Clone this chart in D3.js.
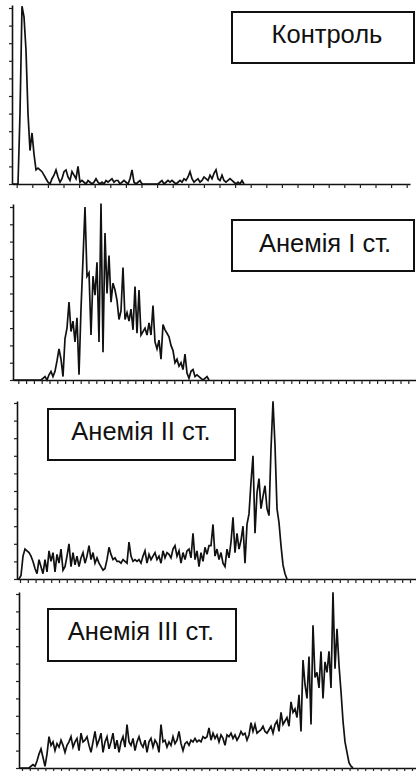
<!DOCTYPE html>
<html lang="uk">
<head>
<meta charset="UTF-8" />
<title>Гістограми еритроцитів</title>
<script src="https://d3js.org/d3.v7.min.js"></script>
<style>
    body { margin: 0; background: #fff; }
    svg { display: block; }
    .lbl { font-family: "Liberation Sans", Arial, sans-serif; font-size: 25.5px; fill: #111; }
</style>
</head>
<body>
<script>
    // histogram values, one per channel, 0..100 = height of the y axis
    var labels = ["Контроль", "Анемія I ст.", "Анемія II ст.", "Анемія III ст."];

    var controlValues = [0,0,0,0,40,101,95,76,40,19, 29,17,8,9,8,7,5,3,1,0,
        3,5,8,4,1,3,7,8,4,2, 7,5,3,10,1,2,1,0,2,1, 0,1,3,1,0,1,0,2,1,2,
        3,1,2,2,0,1,2,1,0,3, 8,1,0,1,2,0,0,0,0,0, 0,0,0,0,1,2,0,1,2,1,
        2,1,0,1,2,1,3,2,4,7, 3,1,2,3,1,2,4,3,2,5, 3,6,8,3,2,5,2,1,2,3,
        2,1,0,1,0,2,0];

    var anemia1Values = [0,0,0,0,0,0,0,0,0,0, 0,0,0,0,0,1,2,0,3,5,
        2,5,11,18,12,2,24,30,45,28, 34,22,36,3,41,70,100,60,62,26,
        60,49,68,22,102,16,85,50,72,45, 56,52,46,35,40,65,35,39,34,41,
        29,54,27,52,26,28,30,26,33,26, 43,22,18,23,12,32,29,27,25,20,
        17,10,12,8,10,6,15,4,1,5, 6,2,3,2,1,0,1,2,0];

    var anemia2Values = [0,0,2,13,17,16,15,13,10,6, 3,11,7,3,11,4,16,10,15,4,
        14,9,17,5,7,13,20,7,15,8, 13,7,12,15,9,13,19,11,15,9,
        12,9,7,5,6,11,18,14,11,12, 10,10,9,11,10,9,21,13,10,11,
        10,11,9,13,16,9,14,11,13,15, 11,13,9,16,12,15,14,12,17,19,
        13,16,9,15,11,16,17,12,26,11, 16,7,15,10,18,14,19,19,31,13,
        17,11,15,9,7,17,12,21,35,15, 26,17,22,30,9,31,37,55,70,26,
        49,57,40,47,53,40,36,74,101,76, 40,32,19,8,3,0];

    var anemia3Values = [0,0,0,0,0,0,1,2,1,4, 8,11,6,1,8,18,13,15,10,14,
        12,16,13,9,13,15,18,12,15,17, 10,20,15,16,18,13,9,15,21,13,
        16,20,9,15,18,11,15,20,11,16, 9,15,18,12,25,15,13,17,10,15,
        18,14,12,16,9,15,17,12,16,14, 9,25,15,16,12,15,13,18,14,16,
        21,14,10,14,15,13,16,15,17,15, 16,15,18,17,18,23,16,20,17,19,
        15,19,17,13,19,18,20,17,19,16, 18,21,19,20,16,19,26,21,25,20,
        21,22,24,21,20,22,24,20,25,27, 21,32,25,27,29,24,38,32,34,29,
        42,21,62,48,40,64,25,82,52,55, 46,67,40,61,55,67,46,101,57,80,
        59,44,27,15,9,3,1,0];

    var w = 416;
    var h = 771;

    var panels = [
        {values: controlValues, x0: 12, x1: 410, base: 184, top: 8, axisTop: 5,
         tickStart: 2.35, tickStep: 7.8, box: [232, 12, 414, 63], tx: 327, ty: 43},
        {values: anemia1Values, x0: 13, x1: 416, base: 380, top: 207, axisTop: 204,
         tickStart: 2.65, tickStep: 3.9, box: [232, 220, 414, 271], tx: 325, ty: 252},
        {values: anemia2Values, x0: 17, x1: 416, base: 579, top: 403, axisTop: 401,
         tickStart: 1.5, tickStep: 3.9, box: [48, 409, 235, 460], tx: 141, ty: 440},
        {values: anemia3Values, x0: 19, x1: 416, base: 768, top: 594, axisTop: 592,
         tickStart: 1.5, tickStep: 3.9, box: [48, 609, 236, 661], tx: 141, ty: 640}
    ];

    var svg = d3.select("body")
                .append("svg")
                .attr("width", w)
                .attr("height", h);

    panels.forEach(function(p, k){
        var g = svg.append("g");
        var nCh = (p.x1 - p.x0) / 2;

        var xScale = d3.scaleLinear()
            .domain([0, nCh])
            .range([p.x0, p.x1]);

        var yMax = 100 * (p.base - p.axisTop) / (p.base - p.top);
        var yScale = d3.scaleLinear()
            .domain([0, yMax])
            .range([p.base, p.axisTop]);

        // y axis
        g.append("g")
            .attr("transform", "translate(" + p.x0 + ",0)")
            .call(d3.axisLeft(yScale)
                .tickValues(d3.range(0, 101, 10))
                .tickSize(3)
                .tickSizeOuter(0)
                .tickFormat(""));

        // x axis
        g.append("g")
            .attr("transform", "translate(0," + p.base + ")")
            .call(d3.axisBottom(xScale)
                .tickValues(d3.range(p.tickStart, nCh, p.tickStep))
                .tickSize(4)
                .tickSizeOuter(0)
                .tickFormat(""));

        g.selectAll(".domain").attr("stroke", "#111").attr("stroke-width", 1.6);
        g.selectAll(".tick line").attr("stroke", "#222").attr("stroke-width", 1.2);

        var line = d3.line()
            .x(function(d, i){ return xScale(i); })
            .y(function(d){ return yScale(d); });

        g.append("path")
            .datum(p.values)
            .attr("d", line)
            .attr("fill", "none")
            .attr("stroke", "#111")
            .attr("stroke-width", 1.7)
            .attr("stroke-linejoin", "miter");

        // label box
        g.append("rect")
            .attr("x", p.box[0])
            .attr("y", p.box[1])
            .attr("width", p.box[2] - p.box[0])
            .attr("height", p.box[3] - p.box[1])
            .attr("fill", "#fff")
            .attr("stroke", "#111")
            .attr("stroke-width", 2);

        g.append("text")
            .attr("class", "lbl")
            .attr("x", p.tx)
            .attr("y", p.ty)
            .attr("text-anchor", "middle")
            .text(labels[k]);
    });
</script>
</body>
</html>
